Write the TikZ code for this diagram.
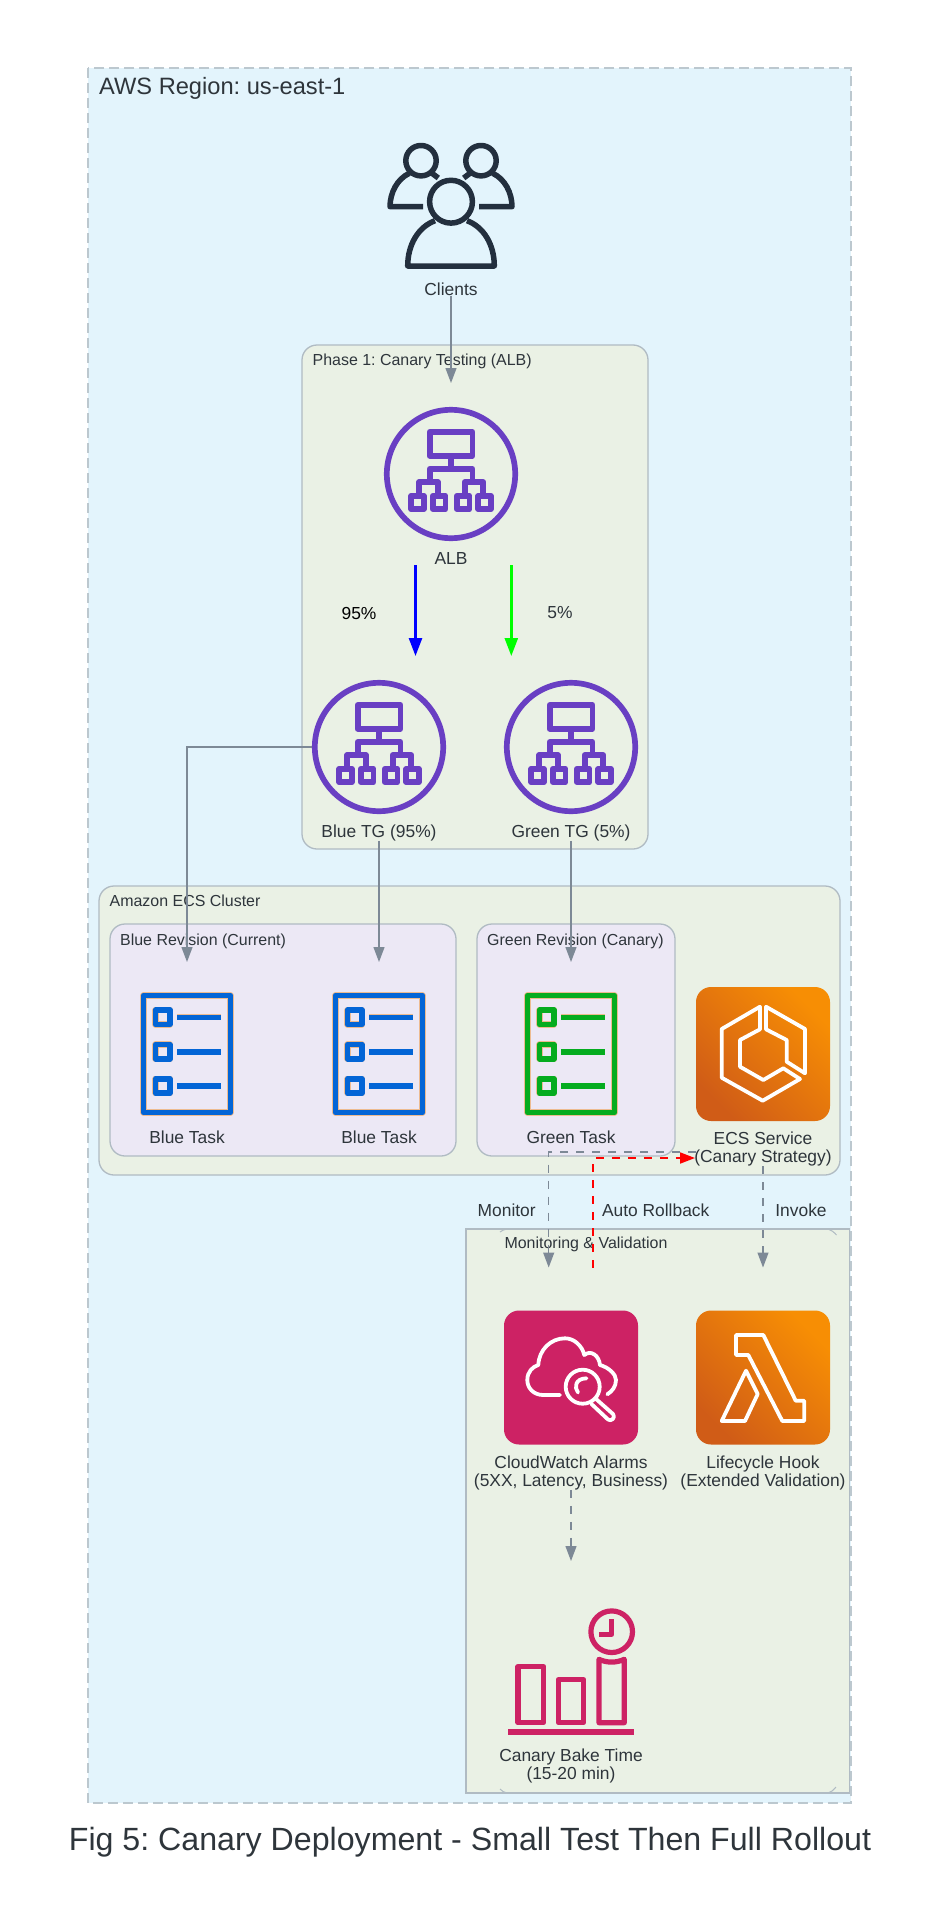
\documentclass[tikz,border=0pt]{standalone}
\usepackage{fontspec}
\setmainfont{Liberation Sans}
\frenchspacing
\usetikzlibrary{arrows.meta,calc}
\definecolor{regionfill}{HTML}{E3F4FC}
\definecolor{regionline}{HTML}{BCC8CF}
\definecolor{groupfill}{HTML}{EAF1E5}
\definecolor{revfill}{HTML}{ECE8F5}
\definecolor{boxline}{HTML}{B0BBC3}
\definecolor{flowgray}{HTML}{7D8996}
\definecolor{labeltext}{HTML}{2E353B}
\definecolor{awsdark}{HTML}{232F3E}
\definecolor{awspurple}{HTML}{693FC3}
\definecolor{awspink}{HTML}{CD2264}
\definecolor{orangelow}{HTML}{D05C17}
\definecolor{orangehigh}{HTML}{F78E04}
\definecolor{bluetask}{HTML}{0365D6}
\definecolor{greentask}{HTML}{05AC1F}
\definecolor{taskfringe}{HTML}{EDBB90}
\tikzset{
	iconcell/.style={minimum size=134pt, inner sep=0pt, outer sep=0pt},
	pinkcell/.style={iconcell, rounded corners=15pt, fill=awspink},
	orangecell/.style={iconcell, rounded corners=15pt, bottom color=orangelow, top color=orangehigh, shading angle=-45},
	iconlabel/.style={font=\fontsize{17.4}{18}\selectfont, text=labeltext, align=center, inner sep=0pt},
	grouptitle/.style={font=\fontsize{15.95}{18}\selectfont, text=labeltext, anchor=west, inner sep=0pt},
	groupbox/.style={draw=boxline, line width=1.3pt, fill=groupfill, rounded corners=15pt},
	revbox/.style={draw=boxline, line width=1.3pt, fill=revfill, rounded corners=15pt},
	flow/.style={draw=flowgray, line width=1.25pt, -{Triangle[length=15pt,width=11pt]}},
	dashflow/.style={flow, dash pattern=on 8pt off 8pt},
	rollback/.style={draw=red, line width=1.8pt, dash pattern=on 8pt off 8pt, -{Triangle[length=15pt,width=11pt]}},
	split/.style={line width=2.6pt, -{Triangle[length=18pt,width=13pt]}},
	pics/lbicon/.style={code={
		\draw[awspurple, line width=5.7pt] (0,0) circle (64.2pt);
		\begin{scope}[awspurple, line width=5.8pt, line join=round]
			\draw (-21.4,-42) rectangle (21.4,-18.2);
			\draw (0,-18) -- (0,-5);
			\draw (-21.4,8) -- (-21.4,-5) -- (21.4,-5) -- (21.4,8);
			\draw (-32,21) -- (-32,8) -- (-13.3,8) -- (-13.3,21);
			\draw (13.7,21) -- (13.7,8) -- (32.3,8) -- (32.3,21);
			\foreach \x in {-33.5,-11.9,12.1,33.6} {
				\draw (\x-6.3,21.9) rectangle (\x+6.3,35.1);
			}
		\end{scope}
	}},
	pics/taskicon/.style={code={
		\foreach \pen/\w in {taskfringe/6.2, #1/5.6} {
			\begin{scope}[\pen, line width=\w pt, line join=round]
				\draw (-43.5,-58.5) rectangle (43.5,58.5);
				\foreach \y in {-36.7,-2.3,32} {
					\draw (-31.5,\y-7.2) rectangle (-17.1,\y+7.2);
					\draw (-9.7,\y) -- (34.3,\y);
				}
			\end{scope}
		}
	}},
	pics/clientsicon/.style={code={
		\begin{scope}[awsdark, line width=5.5pt, line join=round]
			\draw (0,-3.3) circle (21.4pt);
			\draw (-16,15.7) .. controls (-33,22) and (-43.3,40) .. (-43.3,61) -- (43.3,61) .. controls (43.3,40) and (33,22) .. (16,15.7);
			\foreach \s in {-1,1} {
				\draw (\s*30,-44.3) circle (15.2pt);
				\draw (\s*41.7,-31.7) .. controls (\s*54,-26) and (\s*61,-12) .. (\s*61,1.7) -- (\s*28,1.7);
				\draw (\s*19,-31.7) -- (\s*12.7,-27);
			}
		\end{scope}
	}},
	pics/ecsicon/.style={code={
		\begin{scope}[white, line width=3.8pt, line join=round]
			\draw (-3,-47.3) -- (-41.3,-25) -- (-41.3,23.7) -- (-0.3,46.7) -- (37,25) -- (20.3,14.3) -- (0.3,26) -- (-23,12.7) -- (-23,-14) -- (-3,-24.7) -- cycle;
			\draw (3,-47.3) -- (42,-25) -- (42,19.3) -- (23.7,7.7) -- (23.7,-14) -- (3,-24.7) -- cycle;
		\end{scope}
	}},
	pics/lambdaicon/.style={code={
		\begin{scope}[white, line width=3.8pt, line join=round]
			\draw (-27,-42.5) -- (0.3,-42.5) -- (32.7,23.2) -- (41.3,23.2) -- (41.3,43.5) -- (19.3,43.5) -- (-14.7,-22.5) -- (-27,-22.5) -- cycle;
			\draw (-17,-6.8) -- (-5.3,16.5) -- (-18,43.5) -- (-41.3,43.5) -- cycle;
		\end{scope}
	}},
	pics/alarmicon/.style={code={
		\begin{scope}[white, line width=3.8pt, line join=round, line cap=round]
			\draw (-11,17.5) -- (-27.7,17.5) .. controls (-38,17.5) and (-43.7,10) .. (-43.7,2.5) .. controls (-43.7,-6) and (-38,-11) .. (-32.7,-12.5) .. controls (-32,-28) and (-20,-39.2) .. (-6,-39.2) .. controls (3,-39.2) and (11,-32) .. (13.3,-22.5) .. controls (20,-28) and (28,-22) .. (29,-12.5) .. controls (38,-10) and (45,-3) .. (45,2.5) .. controls (45,9) and (41,14) .. (36.3,16.8);
			\draw (11.7,9.2) circle (17pt);
			\draw (7,15) .. controls (3,10) and (4,1) .. (15.5,0.8);
			\draw (24.5,21) -- (42,36.5) .. controls (45,40) and (40,44.5) .. (37,42) -- (20.5,26.5);
		\end{scope}
	}},
	pics/bakeicon/.style={code={
		\begin{scope}[awspink, line width=5.2pt, line join=round]
			\draw (40.7,-39.8) circle (20.8pt);
			\draw (40.7,-52.5) -- (40.7,-37.2) -- (28.3,-37.2);
			\draw (-53,-4.8) rectangle (-27.3,51.2);
			\draw (-12.7,8.2) rectangle (12.7,51.2);
			\draw (28,-12.2) .. controls (36,-8.5) and (45,-8.5) .. (53.3,-12.2) -- (53.3,51.2) -- (28,51.2) -- cycle;
			\draw[line width=5.8pt] (-62.7,60.7) -- (63.3,60.7);
		\end{scope}
	}}
}

\begin{document}
\begin{tikzpicture}[x=1pt,y=-1pt]
	\useasboundingbox (0,0) rectangle (940,1916);

	% Region
	\draw[draw=regionline, line width=1.5pt, fill=regionfill, dash pattern=on 10pt off 5pt] (88,68) rectangle (851,1803);
	\node[font=\fontsize{23.65}{26}\selectfont, text=labeltext, anchor=west, inner sep=0pt] (regiontitle) at (99,88) {AWS Region: us-east-1};

	% Groups
	\draw[groupbox] (302,345) rectangle (648,849);
	\node[grouptitle] (phasetitle) at (312.5,361) {Phase 1: Canary Testing (ALB)};
	\draw[groupbox] (99,886) rectangle (840,1175);
	\node[grouptitle] (clustertitle) at (109.5,901) {Amazon ECS Cluster};
	\draw[revbox] (110,924) rectangle (456,1156);
	\node[grouptitle] (bluerevtitle) at (120,941) {Blue Revision (Current)};
	\draw[revbox] (477,924) rectangle (675,1156);
	\node[grouptitle] (greenrevtitle) at (487,941) {Green Revision (Canary)};

	% Monitoring box, square with the corners of the rounded one left over
	\draw[draw=boxline, line width=1.8pt, fill=groupfill] (466,1229) rectangle (849.5,1793);
	\draw[boxline, line width=1pt] (500,1232) .. controls (502,1230.5) and (504,1229.5) .. (507,1229);
	\draw[boxline, line width=1pt] (836.5,1235) .. controls (834,1232) and (831,1230) .. (828,1229);
	\draw[boxline, line width=1pt] (500,1789) .. controls (502,1791) and (504,1792.5) .. (507,1793);
	\draw[boxline, line width=1pt] (836,1787) .. controls (834,1790) and (831,1792) .. (828,1793);
	\node[grouptitle, anchor=center] (monitortitle) at (586,1244) {Monitoring \& Validation};

	% Icons
	\node[iconcell] (clients) at (451,205) {};
	\pic at (clients) {clientsicon};
	\node[iconlabel] (clientslabel) at (451,289) {Clients};
	\foreach \id/\x/\y/\dy/\t in {alb/451/474/85/ALB, bluetg/379/747/85.5/Blue TG (95\%), greentg/571/747/85.5/Green TG (5\%)} {
		\node[iconcell] (\id) at (\x,\y) {};
		\pic at (\id) {lbicon};
		\node[iconlabel] (\id label) at (\x,\y+\dy) {\t};
	}
	\foreach \id/\x/\tint/\t in {taskone/187/bluetask/Blue Task, tasktwo/379/bluetask/Blue Task, taskthree/571/greentask/Green Task} {
		\node[iconcell] (\id) at (\x,1054) {};
		\pic at (\id) {taskicon=\tint};
		\node[iconlabel] (\id label) at (\x,1137) {\t};
	}
	\node[orangecell] (ecs) at (763,1054) {};
	\pic at (ecs) {ecsicon};
	\node[iconlabel] (ecslabel) at (763,1149) {ECS Service\\(Canary Strategy)};
	\node[pinkcell] (alarms) at (571,1377.5) {};
	\pic at (alarms) {alarmicon};
	\node[iconlabel] (alarmslabel) at (571,1472.5) {CloudWatch Alarms\\(5XX, Latency, Business)};
	\node[orangecell] (hook) at (763,1377.5) {};
	\pic at (hook) {lambdaicon};
	\node[iconlabel] (hooklabel) at (763,1472.5) {Lifecycle Hook\\(Extended Validation)};
	\node[iconcell] (bake) at (571,1671.5) {};
	\pic at (bake) {bakeicon};
	\node[iconlabel] (bakelabel) at (571,1766) {Canary Bake Time\\(15-20 min)};

	% Flows
	\draw[flow, shorten >=24pt] (clientslabel.south) -- (alb.north);
	\draw[split, blue, shorten >=24pt] ([xshift=-35.5pt]alblabel.south) -- ([xshift=36.5pt]bluetg.north);
	\draw[split, green, shorten >=24pt] ([xshift=60.3pt]alblabel.south) -- ([xshift=-59.7pt]greentg.north);
	\draw[flow, shorten >=25pt] (bluetg.west) -| (taskone.north);
	\draw[flow, shorten >=25pt] (bluetglabel.south) -- (tasktwo.north);
	\draw[flow, shorten >=25pt] (greentglabel.south) -- (taskthree.north);
	\coordinate (monitorstart) at (696,1152);
	\coordinate (rollbackend) at (695,1158);
	\draw[dashflow, shorten >=43pt] (monitorstart) -| ([xshift=-22.3pt]alarms.north);
	\draw[rollback, shorten <=43pt] ([xshift=22.3pt]alarms.north) |- (rollbackend);
	\draw[dashflow, shorten >=43pt] (ecslabel.south) -- (hook.north);
	\draw[dashflow, shorten >=43.5pt] (alarmslabel.south) -- (bake.north);

	% Flow labels
	\node[iconlabel, text=black] (bluepct) at (359,614) {95\%};
	\node[iconlabel] (greenpct) at (560,613) {5\%};
	\node[iconlabel] (monitorlabel) at (506.7,1210) {Monitor};
	\node[iconlabel] (rollbacklabel) at (655.7,1210) {Auto Rollback};
	\node[iconlabel] (invokelabel) at (801,1210) {Invoke};

	\node[font=\fontsize{32.15}{36}\selectfont, text=labeltext, inner sep=0pt] (figtitle) at (470,1842) {Fig 5: Canary Deployment - Small Test Then Full Rollout};
\end{tikzpicture}
\end{document}
